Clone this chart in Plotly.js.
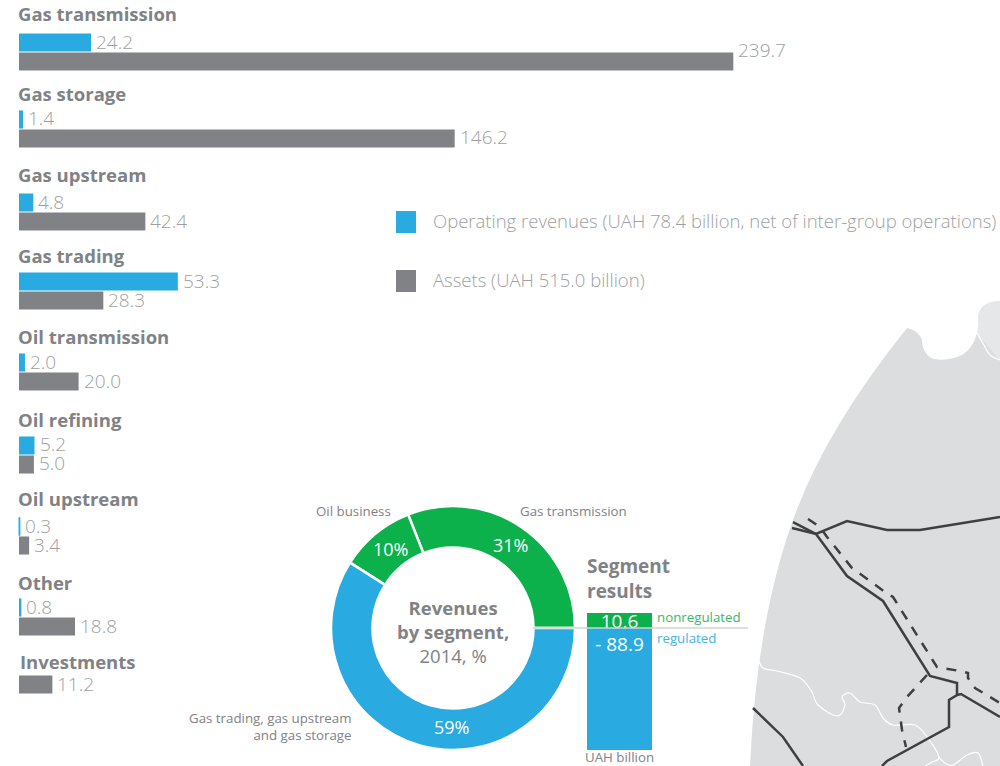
<!DOCTYPE html>
<html>
<head>
<meta charset="utf-8">
<script src="https://cdn.plot.ly/plotly-3.0.1.min.js"></script>
<style>html,body{margin:0;padding:0;background:#fff}#chart{width:1000px;height:766px}</style>
</head>
<body>
<div id="chart"></div>
<script>
// Segment bars, UAH billion
const segments = ['Gas transmission','Gas storage','Gas upstream','Gas trading','Oil transmission','Oil refining','Oil upstream','Other','Investments'];
const revenues = [24.2, 1.4, 4.8, 53.3, 2.0, 5.2, 0.3, 0.8, null];
const assets   = [239.7, 146.2, 42.4, 28.3, 20.0, 5.0, 3.4, 18.8, 11.2];
const seriesNames = ['Operating revenues','Assets'];
const legendLabels = ['Operating revenues (UAH 78.4 billion, net of inter-group operations)','Assets (UAH 515.0 billion)'];

// Revenue split, per cent
const shareLabels = ['Gas transmission','Oil business','Gas trading, gas upstream and gas storage'];
const shareValues = [31, 10, 59];

// Segment result, UAH billion
const resultNonregulated = 10.6;
const resultRegulated = -88.9;

const W = 1000, H = 766;
const BLUE = '#29abe2', GREEN = '#0db14b', GREY = '#808285', LABEL = '#9d9fa2';
const FONT = '"Open Sans", sans-serif';

// Pixel-to-paper helpers for page furniture
const fx = x => x / W;
const fy = y => 1 - y / H;
const pt = p => fx(p[0]).toFixed(4) + ' ' + fy(p[1]).toFixed(4);
const linePath = pts => pts.map((p, i) => (i ? 'L' : 'M') + pt(p)).join(' ');
// Catmull-Rom through the points, written as cubic segments
const smoothPath = pts => {
  let d = 'M' + pt(pts[0]);
  for (let i = 0; i < pts.length - 1; i++) {
    const a = pts[Math.max(i - 1, 0)], b = pts[i], c = pts[i + 1], e = pts[Math.min(i + 2, pts.length - 1)];
    d += ' C' + pt([b[0] + (c[0] - a[0]) / 6, b[1] + (c[1] - a[1]) / 6]) + ' ' + pt([c[0] - (e[0] - b[0]) / 6, c[1] - (e[1] - b[1]) / 6]) + ' ' + pt(c);
  }
  return d;
};

// Vertical placement of each segment's band of two bars
const bandTops = [33, 110, 193, 272, 353, 436, 517, 598, 656];
const bandHeight = 38;
const titleRows = [14, 93, 175, 255, 336, 419, 498, 582, 661];

// Bar length scale: page pixels per UAH billion, zero line position
const barScale = 2.98, barZero = 19;

const traces = [];
const layout = {
  width: W, height: H,
  margin: {l: 0, r: 0, t: 0, b: 0},
  paper_bgcolor: '#fff', plot_bgcolor: 'rgba(0,0,0,0)',
  showlegend: false,
  font: {family: FONT, color: GREY},
  xaxis: {domain: [0, 1], range: [-barZero / barScale, (W - barZero) / barScale], visible: false, fixedrange: true},
  annotations: [], shapes: []
};

segments.forEach((name, i) => {
  const key = i === 0 ? 'yaxis' : 'yaxis' + (i + 1);
  const yref = i === 0 ? 'y' : 'y' + (i + 1);
  layout[key] = {
    domain: [fy(bandTops[i] + bandHeight), fy(bandTops[i])],
    type: 'category', categoryarray: seriesNames, range: [1.5, -0.5],
    visible: false, anchor: 'x', fixedrange: true
  };
  const vals = [revenues[i], assets[i]];
  traces.push({
    type: 'bar', orientation: 'h', xaxis: 'x', yaxis: yref,
    y: seriesNames, x: vals, width: 0.95,
    // Hairline outline keeps bars narrower than a pixel visible
    marker: {color: [BLUE, GREY], line: {color: [BLUE, GREY], width: vals.map(v => v !== null && v < 0.5 ? 1 : 0)}},
    hoverinfo: 'skip', name
  });
  // Value labels sit just past the end of each bar; the longest one rides above its bar
  vals.forEach((v, k) => {
    if (v === null) return;
    layout.annotations.push({
      text: v.toFixed(1), xref: 'x', yref, x: v, y: seriesNames[k], xanchor: 'left', yanchor: 'middle', xshift: 4,
      yshift: v > 200 ? 12 : 1,
      showarrow: false, borderpad: 0, font: {family: FONT, size: 19, color: LABEL, weight: 300}
    });
  });
});

// Revenue donut: the first slice starts at the separator rule and runs anticlockwise
const donut = {cx: 453, cy: 628, r: 122};
traces.push({
  type: 'pie', labels: shareLabels, values: shareValues, sort: false,
  direction: 'counterclockwise', rotation: 90 - shareValues[0] * 3.6, hole: 0.66,
  domain: {x: [fx(donut.cx - donut.r), fx(donut.cx + donut.r)], y: [fy(donut.cy + donut.r), fy(donut.cy - donut.r)]},
  marker: {colors: [GREEN, GREEN, BLUE], line: {color: '#fff', width: 2.5}},
  textinfo: 'none', hoverinfo: 'skip'
});

// Segment results column, on its own axes with zero at the separator rule
const resultZero = 628, resultScale = 1.372;
layout.xaxis2 = {domain: [fx(587), fx(652)], type: 'category', range: [-0.5, 0.5], visible: false, anchor: 'y10', fixedrange: true};
layout.yaxis10 = {domain: [0, 1], range: [(resultZero - H) / resultScale, resultZero / resultScale], visible: false, anchor: 'x2', fixedrange: true};
[[resultNonregulated, GREEN, '10.6', 'middle'], [resultRegulated, BLUE, '- 88.9', 'start']].forEach(([v, c, t, a]) => {
  traces.push({
    type: 'bar', xaxis: 'x2', yaxis: 'y10', x: ['2014'], y: [v], width: 1,
    marker: {color: c, line: {width: 0}}, text: [t], textposition: 'inside', insidetextanchor: a,
    textangle: 0, constraintext: 'none', cliponaxis: false,
    textfont: {family: FONT, size: 19, color: '#fff', weight: 400}, hoverinfo: 'skip'
  });
});
layout.barmode = 'relative';
layout.bargap = 0;

// Text placed by page position
function note(text, x, y, size, o) {
  o = o || {};
  layout.annotations.push({
    text, xref: 'paper', yref: 'paper', x: fx(x), y: fy(y),
    xanchor: o.anchor || 'left', yanchor: 'middle', showarrow: false, align: o.anchor || 'left',
    font: {family: FONT, size, color: o.color || GREY, weight: o.weight || 400}, borderpad: 0
  });
}
segments.forEach((s, i) => note(s, i === 8 ? 19 : 17, titleRows[i], 18.5, {weight: 700}));

note(legendLabels[0], 432, 221, 18.5, {color: LABEL, weight: 300});
note(legendLabels[1], 432, 279.5, 18.5, {color: LABEL, weight: 300});

note('Oil business', 392, 511, 13.3, {anchor: 'right'});
note('Gas transmission', 519, 511, 13.3);
note('Gas trading, gas upstream<br>and gas storage', 353, 726, 13.3, {anchor: 'right'});
note('<b>Revenues</b><br><b>by segment,</b><br>2014, %', 453, 631, 18.5, {anchor: 'center'});
note(shareValues[0] + '%', 510, 545, 18, {anchor: 'center', color: '#fff'});
note(shareValues[1] + '%', 390, 549, 18, {anchor: 'center', color: '#fff'});
note(shareValues[2] + '%', 451, 727, 18, {anchor: 'center', color: '#fff'});

note('<b>Segment</b><br><b>results</b>', 586, 578, 19);
note('nonregulated', 656, 617, 13.3, {color: '#39b76b'});
note('regulated', 656, 638, 13.3, {color: '#42b4e6'});
note('UAH billion', 619, 757, 13.3, {anchor: 'center'});

// Legend swatches
[[211, BLUE], [270, GREY]].forEach(([top, c]) => layout.shapes.push({
  type: 'rect', xref: 'paper', yref: 'paper', x0: fx(396), x1: fx(416), y0: fy(top), y1: fy(top + 22),
  fillcolor: c, line: {width: 0}, layer: 'below'
}));

// Separator rule between nonregulated and regulated
layout.shapes.push({type: 'line', xref: 'paper', yref: 'paper', x0: fx(533), x1: fx(748), y0: fy(628), y1: fy(628), line: {color: '#d1d3d4', width: 1.5}, layer: 'above'});

// Pipeline map fragment in the corner
const landPath = [
  'M' + pt([750,766]),
  'Q' + pt([756.5,621]) + ' ' + pt([793,520]),
  'Q' + pt([825,430]) + ' ' + pt([907,328]),
  'Q' + pt([918,330]) + ' ' + pt([922,340]),
  'Q' + pt([922,352]) + ' ' + pt([931,358]),
  'Q' + pt([940,362]) + ' ' + pt([957,357]),
  'Q' + pt([972,352]) + ' ' + pt([977,333]),
  'L' + pt([1000,360]), 'L' + pt([1000,766]), 'Z'
].join(' ');
const neighbourPath = [
  'M' + pt([977,333]),
  'Q' + pt([979,325]) + ' ' + pt([978,317]),
  'Q' + pt([979,303]) + ' ' + pt([997,301]),
  'L' + pt([1000,301]), 'L' + pt([1000,360]), 'Z'
].join(' ');
const borderMain = [[758,658],[763,668],[777,671],[800,678],[812,692],[818,705],[837,716],[845,705],[842,697],[850,693],[860,702],[875,705],[883,718],[893,725],[915,725],[927,737],[939,757],[932,762],[925,766]];
const borderBranch = [[939,757],[945,763],[953,765],[967,755],[978,753],[983,766]];
const borderNorth = [[977,333],[984,345],[990,355],[1000,360]];
const pipeNorth = [[792,528],[816,534],[847,521],[887,530],[920,530],[1000,517]];
const pipeCentral = [[793,522],[816,534],[847,576],[883,601],[930,676],[957,683],[957,695],[949,700],[949,727],[887,761],[882,766]];
const pipeEast = [[957,695],[961,694],[1000,717]];
const pipeWest = [[753,708],[783,737],[803,766]];
const dashedMain = [[808,519],[820,527],[827,537],[852,568],[885,592],[893,597],[937,667],[960,671],[968,673],[968,678],[975,688],[1000,703]];
const dashedSpur = [[927,675],[907,697],[899,708],[902,730],[906,747]];

const mapShape = (path, s) => layout.shapes.push(Object.assign({type: 'path', xref: 'paper', yref: 'paper', layer: 'below', path}, s));
mapShape(neighbourPath, {fillcolor: '#e6e7e8', line: {width: 0}});
mapShape(landPath, {fillcolor: '#dcddde', line: {width: 0}});
[borderMain, borderBranch, borderNorth].forEach(p => mapShape(smoothPath(p), {line: {color: '#fff', width: 1.2}}));
[pipeNorth, pipeCentral, pipeEast, pipeWest].forEach(p => mapShape(linePath(p), {line: {color: '#3f3f41', width: 2.5}}));
[dashedMain, dashedSpur].forEach(p => mapShape(linePath(p), {line: {color: '#3f3f41', width: 2.5, dash: '10px,9px'}}));

Plotly.newPlot('chart', traces, layout, {displayModeBar: false, staticPlot: true});
</script>
</body>
</html>
